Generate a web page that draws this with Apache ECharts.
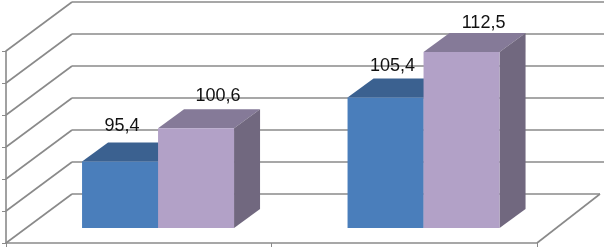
<!DOCTYPE html>
<html>
<head>
<meta charset="utf-8">
<style>html,body{margin:0;padding:0;background:#fff}#c{width:604px;height:249px}</style>
<script src="https://cdn.jsdelivr.net/npm/echarts@6/dist/echarts.min.js"></script>
</head>
<body>
<div id="c"></div>
<script>
const categories = ['A', 'B'];
const seriesOne = [95.4, 105.4];
const seriesTwo = [100.6, 112.5];
const yTicks = [85, 90, 95, 100, 105, 110, 115];
const labelNudgeOne = [[2, -35], [7, -31]];
const labelNudgeTwo = [[22, -32], [22, -29]];

const WALL = [66, -49];      // depth of floor in screen px
const FLOOR_RIGHT_DX = 63;
const BAR_SHIFT = [19.3, -15]; // bar front face offset from chart front plane
const BAR_DEPTH = [26, -19];
const BAR_W = 76;
const GRID_C = '#8a8a8a';

function wallRender(params, api) {
  const v = api.value(0);
  const cs = params.coordSys;
  const y = api.coord([0, v])[1];
  const x0 = cs.x, x1 = cs.x + cs.width;
  const lineStyle = { stroke: GRID_C, lineWidth: 1.6, fill: null };
  const isFloor = v === yTicks[0];
  const children = [
    { type: 'line', shape: { x1: x0, y1: y, x2: x0 + WALL[0], y2: y + WALL[1] }, style: lineStyle },
    { type: 'line', shape: { x1: x0 + WALL[0], y1: y + WALL[1], x2: x1 + FLOOR_RIGHT_DX + (isFloor ? 0 : 6), y2: y + WALL[1] }, style: lineStyle }
  ];
  if (isFloor) {
    children.push({ type: 'line', shape: { x1: x1, y1: y, x2: x1 + FLOOR_RIGHT_DX, y2: y + WALL[1] }, style: lineStyle });
  }
  return { type: 'group', children };
}

function barRender(front, top, side, side0) {
  return function (params, api) {
    const cat = api.value(0), v = api.value(1);
    const cx = api.coord([cat, v])[0] + BAR_SHIFT[0];
    const yT = api.coord([cat, v])[1] + BAR_SHIFT[1];
    const yB = api.coord([cat, yTicks[0]])[1] + BAR_SHIFT[1];
    const xL = cx + (side0 ? -BAR_W : 0), xR = xL + BAR_W;
    const [dx, dy] = BAR_DEPTH;
    return {
      type: 'group',
      children: [
        { type: 'polygon', shape: { points: [[xL, yT], [xR, yT], [xR + dx, yT + dy], [xL + dx, yT + dy]] }, style: { fill: top } },
        { type: 'polygon', shape: { points: [[xR, yT], [xR + dx, yT + dy], [xR + dx, yB + dy], [xR, yB]] }, style: { fill: side } },
        { type: 'rect', shape: { x: xL, y: yT, width: BAR_W, height: yB - yT }, style: { fill: front } }
      ]
    };
  };
}

function labelRender(side0, nudges) {
  return function (params, api) {
    const cat = api.value(0), v = api.value(1);
    const p = api.coord([cat, v]);
    const cx = p[0] + BAR_SHIFT[0] + (side0 ? -BAR_W / 2 : BAR_W / 2);
    const yT = p[1] + BAR_SHIFT[1];
    const n = nudges[params.dataIndex];
    return {
      type: 'text',
      style: {
        x: cx + n[0], y: yT + n[1],
        text: String(v).replace('.', ','),
        fill: '#111', font: '18px "Liberation Sans", Arial, sans-serif',
        align: 'center', verticalAlign: 'middle'
      }
    };
  };
}

const chart = echarts.init(document.getElementById('c'), null, { renderer: 'canvas' });
const rows = arr => arr.map((v, i) => [i, v]);
chart.setOption({
  animation: false,
  backgroundColor: '#fff',
  grid: { left: 6, right: 67, top: 51, bottom: 6 },
  xAxis: {
    type: 'category', data: categories, boundaryGap: true,
    axisLine: { lineStyle: { color: GRID_C, width: 1.6 } },
    axisTick: { show: true, length: 4, alignWithLabel: false, lineStyle: { color: GRID_C } },
    axisLabel: { show: false }
  },
  yAxis: {
    type: 'value', min: 85, max: 115, interval: 5,
    axisLine: { show: true, lineStyle: { color: GRID_C, width: 1.6 } },
    axisTick: { show: true, length: 4, lineStyle: { color: GRID_C } },
    axisLabel: { show: false },
    splitLine: { show: false }
  },
  series: [
    { type: 'custom', renderItem: wallRender, data: yTicks.map(v => [v]), encode: { y: 0 }, silent: true, z: 1 },
    { type: 'custom', renderItem: barRender('#4a7ebb', '#3b6190', '#3b6190', true), data: rows(seriesOne), encode: { x: 0, y: 1 }, z: 2 },
    { type: 'custom', renderItem: barRender('#b2a1c7', '#857a98', '#71687f', false), data: rows(seriesTwo), encode: { x: 0, y: 1 }, z: 3 },
    { type: 'custom', renderItem: labelRender(true, labelNudgeOne), data: rows(seriesOne), encode: { x: 0, y: 1 }, z: 4 },
    { type: 'custom', renderItem: labelRender(false, labelNudgeTwo), data: rows(seriesTwo), encode: { x: 0, y: 1 }, z: 4 }
  ]
});
</script>
</body>
</html>
